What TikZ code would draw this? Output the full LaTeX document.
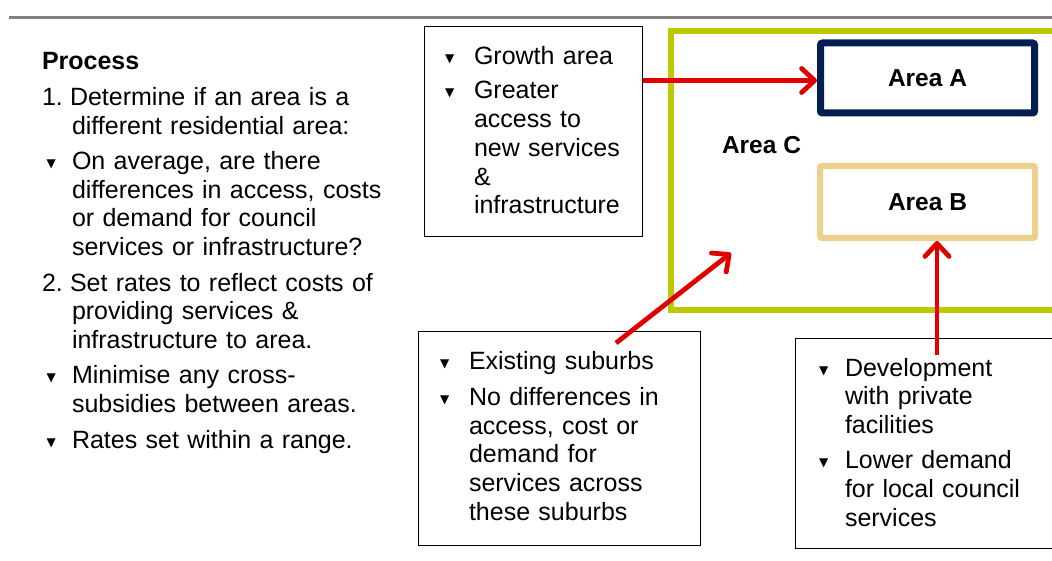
\documentclass[tikz,border=0pt]{standalone}
\usepackage{fontspec}
\setmainfont{Liberation Sans}
\newfontfamily\symf{DejaVu Sans}
\usetikzlibrary{arrows.meta,calc}
\newlength\bulind \newlength\buloff
\setlength\bulind{30pt}\setlength\buloff{6pt}
\newcommand\bul{\raisebox{2pt}{\symf\fontsize{12}{12}\selectfont ▼}}
\newcommand\numitem[2]{\noindent\hangindent=30pt\hangafter=1\makebox[28pt][l]{#1}#2\par}
\newcommand\bulitem[1]{\noindent\hangindent=\bulind\hangafter=1\makebox[\bulind][l]{\hspace{\buloff}\bul}#1\par}
\definecolor{arrred}{RGB}{225,0,0}
\definecolor{navyA}{RGB}{5,30,80}
\definecolor{tanB}{RGB}{237,209,138}
\definecolor{limeC}{RGB}{188,200,0}
\definecolor{rulegray}{RGB}{128,128,128}
\begin{document}
\begin{tikzpicture}[x=1pt,y=-1pt,
  txt/.style={inner sep=0pt, outer sep=0pt, text width=#1,
    font=\fontsize{25}{28.8}\selectfont},
  txt/.default=380pt,
  infobox/.style={draw=black, line width=1.2pt, fill=white, inner sep=0pt,
    anchor=north west},
  areabox/.style={inner sep=0pt, fill=white, rounded corners=2pt,
    font=\bfseries\fontsize{24.5}{28}\selectfont},
  arr/.style={draw=arrred, line width=4.8pt,
    -{Straight Barb[length=13pt,width=24pt,round]}}]
\clip (0,0) rectangle (1052,561);
\fill[white] (0,0) rectangle (1052,561);
% top rule
\draw[rulegray, line width=3pt] (9,18) -- (1060,18);
% left text block
\node[txt, anchor=base west] (proc) at (42,70) {\setlength\parskip{6.5pt}%
\setlength\bulind{30pt}\setlength\buloff{4.5pt}%
\noindent\textbf{Process}\par
\numitem{1.}{Determine if an area is a\newline different residential area:}
\bulitem{On average, are there\newline differences in access, costs\newline or demand for council\newline services or infrastructure?}
\numitem{2.}{Set rates to reflect costs of\newline providing services \&\newline infrastructure to area.}
\bulitem{Minimise any cross-\newline subsidies between areas.}
\bulitem{Rates set within a range.}};
% Area C (green frame)
\node[draw=limeC, line width=5.5pt, inner sep=0pt, minimum width=430pt,
  minimum height=279pt, anchor=north west] (areaC) at (668,28.5) {};
\node[font=\bfseries\fontsize{24.5}{28}\selectfont, inner sep=0pt] (areaClabel) at (761.5,145) {Area C};
% Area A and B
\node[areabox, draw=navyA, line width=7pt, minimum width=214pt, minimum height=70pt] (areaA) at (927.5,78) {Area A};
\node[areabox, draw=tanB, line width=6pt, minimum width=215pt, minimum height=72pt] (areaB) at (927.5,202) {Area B};
% growth box
\node[infobox, minimum width=218pt, minimum height=210pt] (gbox) at (424,26) {};
\node[txt, anchor=base west] (gtxt) at (444,65) {\setlength\parskip{5pt}%
\setlength\bulind{30pt}\setlength\buloff{1pt}%
\bulitem{Growth area}
\bulitem{Greater\newline access to\newline new services\newline \&\newline infrastructure}};
% existing suburbs box
\node[infobox, minimum width=282pt, minimum height=214pt] (exbox) at (418,331) {};
\node[txt, anchor=base west] (extxt) at (440,369.5) {\setlength\parskip{7pt}%
\setlength\bulind{29pt}\setlength\buloff{0pt}%
\bulitem{Existing suburbs}
\bulitem{No differences in\newline access, cost or\newline demand for\newline services across\newline these suburbs}};
% development box
\node[infobox, minimum width=280pt, minimum height=210pt] (devbox) at (795,338) {};
\node[txt, anchor=base west] (devtxt) at (818,376) {\setlength\parskip{6pt}%
\setlength\bulind{27pt}\setlength\buloff{1pt}%
\bulitem{Development\newline with private\newline facilities}
\bulitem{Lower demand\newline for local council\newline services}};
% connectors
\coordinate (extail) at (616,343);
\coordinate (ctip) at (731,253);
\coordinate (devtail) at (937,355);
\draw[arr] ($(gbox.east |- areaA.west)+(0,2.5)$) -- ($(areaA.west)+(0,2.5)$);
\draw[arr] (extail) -- (ctip);
\draw[arr] (devtail) -- (devtail |- areaB.south);
\end{tikzpicture}
\end{document}
